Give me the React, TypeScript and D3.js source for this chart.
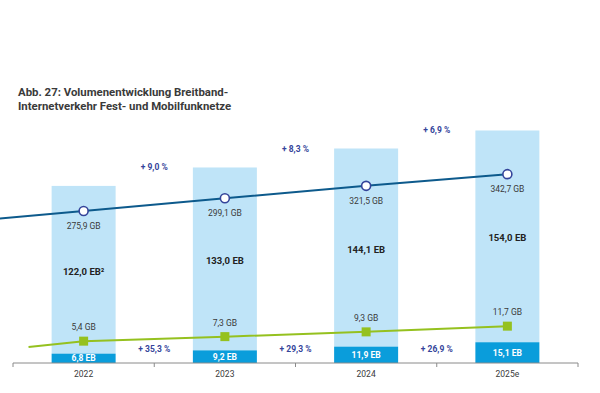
import React from 'react';
import * as d3 from 'd3';

// Daten
const years = ['2022', '2023', '2024', '2025e'];
const fixedEB = [122.0, 133.0, 144.1, 154.0];
const mobileEB = [6.8, 9.2, 11.9, 15.1];
const fixedGB = [275.9, 299.1, 321.5, 342.7];
const mobileGB = [5.4, 7.3, 9.3, 11.7];
const fixedGrowth = ['+ 9,0 %', '+ 8,3 %', '+ 6,9 %'];
const mobileGrowth = ['+ 35,3 %', '+ 29,3 %', '+ 26,9 %'];
// Einlauf der Linien links vom ersten Jahr
const fixedLeadIn = 262;
const mobileLeadIn = 2.9;

const W = 600;
const H = 393;
const FONT = 'Roboto, "DejaVu Sans", sans-serif';
const fmt = (v: number) => v.toFixed(1).replace('.', ',');

export default function App() {
  const axisY = 363;
  const x = d3.scaleBand<string>().domain(years).range([13, 578]).padding(0);
  const barW = 64;
  const cx = (d: string) => (x(d) || 0) + x.bandwidth() / 2;

  const yEB = d3.scaleLinear().domain([0, 180]).range([axisY, axisY - 180 * 1.375]);
  const yFix = d3.scaleLinear().domain([0, 350]).range([axisY, axisY - 350 * 0.551]);
  const yMob = d3.scaleLinear().domain([0, 12]).range([354, 354 - 12 * 2.38]);

  const line = d3.line<[number, number]>().x(d => d[0]).y(d => d[1]);
  const fixedPts: [number, number][] = [
    [cx(years[0]) - x.bandwidth() * 0.6, yFix(fixedLeadIn)],
    ...years.map((yr, i) => [cx(yr), yFix(fixedGB[i])] as [number, number]),
  ];
  const mobilePts: [number, number][] = [
    [cx(years[0]) - x.bandwidth() * 0.39, yMob(mobileLeadIn)],
    ...years.map((yr, i) => [cx(yr), yMob(mobileGB[i])] as [number, number]),
  ];

  const ticks = [...years.map(yr => x(yr) || 0), 578];
  const navy = '#34449a';
  const text = '#3a3a3a';

  return (
    <svg width={W} height={H} style={{ position: 'absolute', left: 0, top: 0, background: '#fff' }} fontFamily={FONT}>
      <text x={18} y={96} fontSize={11.4} fontWeight={700} fill={text}>
        Abb. 27: Volumenentwicklung Breitband-
      </text>
      <text x={18} y={109.5} fontSize={11.4} fontWeight={700} fill={text}>
        Internetverkehr Fest- und Mobilfunknetze
      </text>

      {years.map((yr, i) => {
        const left = cx(yr) - barW / 2;
        const top = yEB(fixedEB[i] + mobileEB[i]);
        const mid = yEB(mobileEB[i]);
        return (
          <g key={yr}>
            <rect x={left} y={top} width={barW} height={mid - top} fill="#bfe4f8" />
            <rect x={left} y={mid} width={barW} height={axisY - mid} fill="#0a9ddb" />
            <text x={cx(yr)} y={(top + mid) / 2 + 5} textAnchor="middle" fontSize={9.5} fontWeight={700} fill="#222">
              {fmt(fixedEB[i])} EB{i === 0 ? '²' : ''}
            </text>
            <text x={cx(yr)} y={(mid + axisY) / 2 + 3} textAnchor="middle" fontSize={8.5} fontWeight={700} fill="#fff">
              {fmt(mobileEB[i])} EB
            </text>
            <text x={cx(yr)} y={axisY + 14} textAnchor="middle" fontSize={8.5} fill={text}>
              {yr}
            </text>
          </g>
        );
      })}

      <line x1={13} x2={578} y1={axisY} y2={axisY} stroke="#8a8a8a" strokeWidth={1} />
      {ticks.map((t, i) => (
        <line key={i} x1={t} x2={t} y1={axisY} y2={axisY + 4} stroke="#8a8a8a" strokeWidth={1} />
      ))}

      <path d={line(fixedPts) || ''} fill="none" stroke="#0d5a8c" strokeWidth={2} />
      <path d={line(mobilePts) || ''} fill="none" stroke="#95c11f" strokeWidth={2} />

      {years.map((yr, i) => (
        <g key={'m' + yr}>
          <circle cx={cx(yr)} cy={yFix(fixedGB[i])} r={4.5} fill="#fff" stroke={navy} strokeWidth={1.6} />
          <text x={cx(yr)} y={yFix(fixedGB[i]) + 18} textAnchor="middle" fontSize={8.5} fill={text}>
            {fmt(fixedGB[i])} GB
          </text>
          <rect x={cx(yr) - 4.5} y={yMob(mobileGB[i]) - 4.5} width={9} height={9} fill="#95c11f" />
          <text x={cx(yr)} y={yMob(mobileGB[i]) - 11} textAnchor="middle" fontSize={8.5} fill={text}>
            {fmt(mobileGB[i])} GB
          </text>
        </g>
      ))}

      {fixedGrowth.map((g, i) => {
        const nxt = years[i + 1];
        return (
          <text key={'fg' + i} x={x(nxt) || 0} y={yEB(fixedEB[i + 1] + mobileEB[i + 1]) + 3} textAnchor="middle" fontSize={8.5} fontWeight={700} fill={navy}>
            {g}
          </text>
        );
      })}
      {mobileGrowth.map((g, i) => (
        <text key={'mg' + i} x={x(years[i + 1]) || 0} y={352} textAnchor="middle" fontSize={8.5} fontWeight={700} fill={navy}>
          {g}
        </text>
      ))}
    </svg>
  );
}
